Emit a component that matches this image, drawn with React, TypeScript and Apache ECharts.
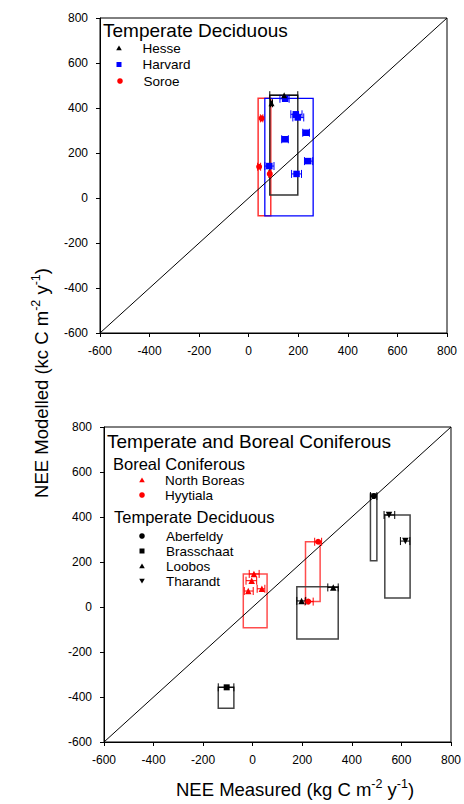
import React, { useEffect, useRef } from "react";
import * as echarts from "echarts";

// ---- Top panel: Temperate Deciduous ----
// points: [measured, modelled, measuredLow, measuredHigh]
const hessePoints = [
  [143, 457, 85, 198],
  [92, 421, 88, 96],
];
const harvardPoints = [
  [147, 441, 126, 163],
  [190, 372, 170, 215],
  [198, 358, 178, 222],
  [231, 290, 218, 245],
  [146, 261, 133, 160],
  [240, 164, 225, 258],
  [83, 142, 65, 102],
  [193, 107, 173, 213],
];
const soroePoints = [
  [52, 354, 47, 57],
  [42, 139, 36, 48],
  [85, 107, 81, 89],
];
// boxes: [xMin, xMax, yMin, yMax]
const hesseBox = [[85, 198, 13, 457]];
const harvardBox = [[65, 260, -79, 443]];
const soroeBox = [[38, 89, -79, 443]];

// ---- Bottom panel: Temperate and Boreal Coniferous ----
const northBoreasPoints = [
  [5, 147, -14, 26],
  [-4, 117, -27, 16],
  [-18, 71, -34, 2],
  [37, 81, 18, 49],
];
const hyytialaPoints = [
  [264, 290, 250, 278],
  [224, 24, 211, 244],
];
const aberfeldyPoints = [[489, 493, 475, 501]];
const brasschaatPoints = [[-105, -357, -139, -76]];
const loobosPoints = [
  [197, 27, 178, 214],
  [325, 87, 303, 345],
];
const tharandtPoints = [
  [550, 409, 530, 573],
  [616, 293, 596, 634],
];
const northBoreasBox = [[-38, 58, -92, 147]];
const hyytialaBox = [[213, 272, 24, 290]];
const aberfeldyBox = [[475, 501, 206, 502]];
const brasschaatBox = [[-139, -76, -450, -357]];
const loobosBox = [[178, 345, -142, 90]];
const tharandtBox = [[533, 635, 40, 409]];

const oneToOne = [
  [-600, -600],
  [800, 800],
];
const axisMin = -600;
const axisMax = 800;
const axisStep = 200;

const FONT = "'Liberation Sans', Arial, Helvetica, sans-serif";

function boxSeries(name: string, data: number[][], color: string, idx: number, width = 1.5) {
  return {
    type: "custom",
    name: name + " range",
    xAxisIndex: idx,
    yAxisIndex: idx,
    data,
    encode: { x: [0, 1], y: [2, 3] },
    silent: true,
    z: 1,
    renderItem: (_p: any, api: any) => {
      const a = api.coord([api.value(0), api.value(3)]);
      const b = api.coord([api.value(1), api.value(2)]);
      return {
        type: "rect",
        shape: { x: a[0], y: a[1], width: b[0] - a[0], height: b[1] - a[1] },
        style: { fill: "none", stroke: color, lineWidth: width },
      };
    },
  };
}

function errSeries(name: string, data: number[][], color: string, idx: number) {
  return {
    type: "custom",
    name: name + " error",
    xAxisIndex: idx,
    yAxisIndex: idx,
    data,
    encode: { x: [2, 3], y: 1 },
    silent: true,
    z: 3,
    renderItem: (_p: any, api: any) => {
      const l = api.coord([api.value(2), api.value(1)]);
      const r = api.coord([api.value(3), api.value(1)]);
      const st = { stroke: color, lineWidth: 1 };
      return {
        type: "group",
        children: [
          { type: "line", shape: { x1: l[0], y1: l[1], x2: r[0], y2: r[1] }, style: st },
          { type: "line", shape: { x1: l[0], y1: l[1] - 4, x2: l[0], y2: l[1] + 4 }, style: st },
          { type: "line", shape: { x1: r[0], y1: r[1] - 4, x2: r[0], y2: r[1] + 4 }, style: st },
        ],
      };
    },
  };
}

function ptSeries(name: string, data: number[][], color: string, idx: number, symbol: string, size: number, rotate = 0, z = 4) {
  return {
    type: "scatter",
    name,
    xAxisIndex: idx,
    yAxisIndex: idx,
    data: data.map((p) => [p[0], p[1]]),
    symbol,
    symbolSize: size,
    symbolRotate: rotate,
    itemStyle: { color, opacity: 1 },
    z,
  };
}

function diagSeries(idx: number) {
  return {
    type: "line",
    name: "1:1",
    xAxisIndex: idx,
    yAxisIndex: idx,
    data: oneToOne,
    symbol: "none",
    lineStyle: { color: "#000", width: 1 },
    silent: true,
    z: 2,
  };
}

function axisCommon(margin: number) {
  return {
    type: "value",
    min: axisMin,
    max: axisMax,
    interval: axisStep,
    splitLine: { show: false },
    axisLine: { show: true, onZero: false, lineStyle: { color: "#000", width: 1 } },
    axisTick: { show: true, inside: false, length: 4, lineStyle: { color: "#000" } },
    axisLabel: { color: "#000", fontSize: 12, fontFamily: FONT, margin },
  };
}

function legendText(x: number, y: number, text: string, size: number) {
  return {
    type: "text",
    x,
    y,
    style: { text, fontSize: size, fontFamily: FONT, fill: "#000", verticalAlign: "middle", align: "left" },
  };
}

function tri(x: number, y: number, color: string, down = false) {
  const s = 2.8;
  const pts = down
    ? [[x - s, y - s * 0.8], [x + s, y - s * 0.8], [x, y + s * 0.9]]
    : [[x - s, y + s * 0.8], [x + s, y + s * 0.8], [x, y - s * 0.9]];
  return { type: "polygon", shape: { points: pts }, style: { fill: color } };
}
function sq(x: number, y: number, color: string) {
  return { type: "rect", shape: { x: x - 2.5, y: y - 2.5, width: 5, height: 5 }, style: { fill: color } };
}
function dot(x: number, y: number, color: string) {
  return { type: "circle", shape: { cx: x, cy: y, r: 2.8 }, style: { fill: color } };
}

const sup = {
  n: { fontSize: 18.5, fontFamily: FONT, color: "#000", lineHeight: 22, verticalAlign: "bottom" },
  s: { fontSize: 12.5, fontFamily: FONT, color: "#000", lineHeight: 22, verticalAlign: "top" },
};

export default function App() {
  const ref = useRef<HTMLDivElement>(null);
  useEffect(() => {
    if (!ref.current) return;
    const chart = echarts.init(ref.current, undefined, { renderer: "svg" });
    const RED = "#ff0000";
    const BLUE = "#0000ff";
    const BLACK = "#000000";
    chart.setOption({
      animation: false,
      backgroundColor: "#fff",
      textStyle: { fontFamily: FONT },
      grid: [
        { left: 100, right: 17, top: 18, height: 315, show: true, borderColor: "#000", borderWidth: 1, backgroundColor: "transparent" },
        { left: 104, right: 13, top: 427, height: 315, show: true, borderColor: "#000", borderWidth: 1, backgroundColor: "transparent" },
      ],
      xAxis: [
        { ...axisCommon(12), gridIndex: 0 },
        { ...axisCommon(12), gridIndex: 1 },
      ],
      yAxis: [
        { ...axisCommon(12), gridIndex: 0 },
        { ...axisCommon(12), gridIndex: 1 },
      ],
      series: [
        diagSeries(0),
        boxSeries("Soroe", soroeBox, "rgba(255,0,0,0.8)", 0),
        boxSeries("Harvard", harvardBox, BLUE, 0, 1.3),
        boxSeries("Hesse", hesseBox, "#333", 0),
        errSeries("Harvard", harvardPoints, BLUE, 0),
        errSeries("Soroe", soroePoints, RED, 0),
        errSeries("Hesse", hessePoints, BLACK, 0),
        ptSeries("Harvard", harvardPoints, BLUE, 0, "rect", 6.5),
        ptSeries("Soroe", soroePoints, RED, 0, "circle", 6),
        ptSeries("Hesse", hessePoints, BLACK, 0, "triangle", 6, 0, 5),

        diagSeries(1),
        boxSeries("North Boreas", northBoreasBox, "rgba(255,0,0,0.7)", 1),
        boxSeries("Hyytiala", hyytialaBox, "rgba(255,0,0,0.7)", 1),
        boxSeries("Aberfeldy", aberfeldyBox, "#444", 1),
        boxSeries("Brasschaat", brasschaatBox, "#444", 1),
        boxSeries("Loobos", loobosBox, "#444", 1),
        boxSeries("Tharandt", tharandtBox, "#444", 1),
        errSeries("North Boreas", northBoreasPoints, RED, 1),
        errSeries("Hyytiala", hyytialaPoints, RED, 1),
        errSeries("Aberfeldy", aberfeldyPoints, BLACK, 1),
        errSeries("Brasschaat", brasschaatPoints, BLACK, 1),
        errSeries("Loobos", loobosPoints, BLACK, 1),
        errSeries("Tharandt", tharandtPoints, BLACK, 1),
        ptSeries("North Boreas", northBoreasPoints, RED, 1, "triangle", 6.5),
        ptSeries("Hyytiala", hyytialaPoints, RED, 1, "circle", 6),
        ptSeries("Aberfeldy", aberfeldyPoints, BLACK, 1, "circle", 6),
        ptSeries("Brasschaat", brasschaatPoints, BLACK, 1, "rect", 6),
        ptSeries("Loobos", loobosPoints, BLACK, 1, "triangle", 6.5),
        ptSeries("Tharandt", tharandtPoints, BLACK, 1, "triangle", 6.5, 180),
      ],
      graphic: [
        // top legend
        legendText(103, 30, "Temperate Deciduous", 19),
        tri(119, 48, BLACK),
        legendText(142.5, 48, "Hesse", 13.5),
        sq(119, 64.5, BLUE),
        legendText(142.5, 64.5, "Harvard", 13.5),
        dot(120, 81, RED),
        legendText(143.5, 81, "Soroe", 13.5),
        // bottom legend
        legendText(107, 441, "Temperate and Boreal Coniferous", 19),
        legendText(113, 464, "Boreal Coniferous", 16.5),
        tri(142, 480, RED),
        legendText(165, 480, "North Boreas", 13.5),
        dot(142, 495, RED),
        legendText(165, 495, "Hyytiala", 13.5),
        legendText(114, 517, "Temperate Deciduous", 16.5),
        dot(142, 536, BLACK),
        legendText(166, 536, "Aberfeldy", 13.5),
        sq(142, 551, BLACK),
        legendText(166, 551, "Brasschaat", 13.5),
        tri(142, 566, BLACK),
        legendText(166, 566, "Loobos", 13.5),
        tri(142, 581, BLACK, true),
        legendText(166, 581, "Tharandt", 13.5),
        // axis titles
        {
          type: "text",
          x: 40,
          y: 383,
          rotation: Math.PI / 2,
          style: {
            text: "{n|NEE Modelled (kc C m}{s|-2}{n| y}{s|-1}{n|)}",
            rich: sup,
            align: "center",
            verticalAlign: "middle",
          },
        },
        {
          type: "text",
          x: 295,
          y: 788,
          style: {
            text: "{n|NEE Measured (kg C m}{s|-2}{n| y}{s|-1}{n|)}",
            rich: sup,
            align: "center",
            verticalAlign: "middle",
          },
        },
      ],
    });
    return () => chart.dispose();
  }, []);
  return (
    <div
      ref={ref}
      style={{ position: "fixed", left: 0, top: 0, width: 464, height: 804, background: "#fff" }}
    />
  );
}
